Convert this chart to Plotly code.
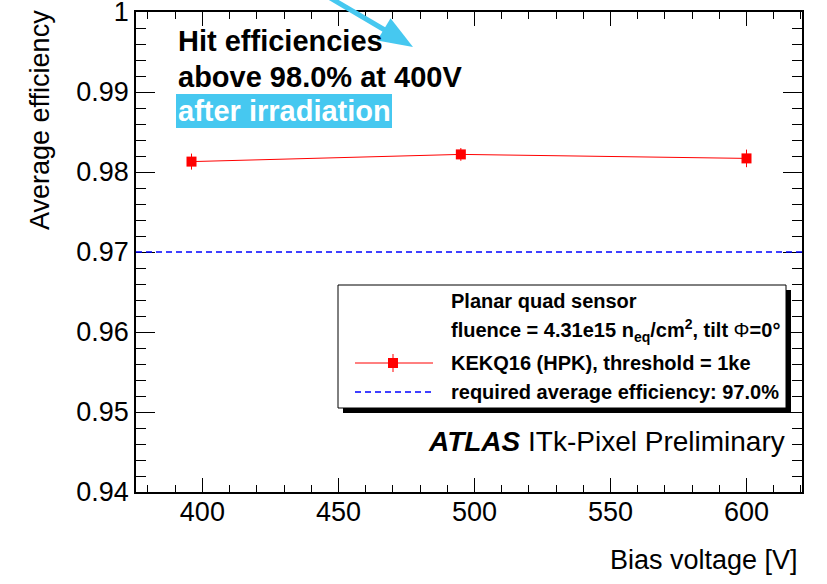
import plotly.graph_objects as go

# ---- data ----
bias_voltage = [396, 495, 600]
avg_efficiency = [0.9813, 0.9822, 0.9817]
eff_error = [0.0010, 0.0008, 0.0011]
required_eff = 0.970

x_ticks = [400, 450, 500, 550, 600]
y_ticks = [0.94, 0.95, 0.96, 0.97, 0.98, 0.99, 1.0]
y_ticktext = ["0.94", "0.95", "0.96", "0.97", "0.98", "0.99", "1"]

# ---- layout geometry (page pixels) ----
W, H = 827, 584
PX0, PX1, PY0, PY1 = 136, 802, 12, 492
L, T = PX0, PY0
R, B = W - PX1, H - PY1
PW, PH = PX1 - PX0, PY1 - PY0
FONT = "Liberation Sans, Arial, Helvetica, sans-serif"
CYAN = "#46c8f0"


def px(x):
    return (x - PX0) / PW


def py(y):
    return (PY1 - y) / PH


fig = go.Figure()

fig.add_trace(go.Scatter(
    x=bias_voltage, y=avg_efficiency,
    mode="lines+markers",
    line=dict(color="#ff0000", width=1),
    marker=dict(symbol="square", size=10, color="#ff0000"),
    error_y=dict(type="data", array=eff_error, visible=True,
                 color="#ff0000", thickness=1, width=0),
    showlegend=False,
))

shapes = []
# required efficiency line
shapes.append(dict(type="line", xref="paper", yref="y", x0=0, x1=1,
                   y0=required_eff, y1=required_eff,
                   line=dict(color="#0000ff", width=1.5, dash="6px,4px")))

# legend box with shadow
shapes.append(dict(type="rect", xref="paper", yref="paper",
                   x0=px(343), x1=px(791), y0=py(290), y1=py(413),
                   fillcolor="black", line=dict(width=0), layer="above"))
shapes.append(dict(type="rect", xref="paper", yref="paper",
                   x0=px(338), x1=px(786), y0=py(285), y1=py(408),
                   fillcolor="white", line=dict(color="black", width=1), layer="above"))
# legend samples
shapes.append(dict(type="line", xref="paper", yref="paper",
                   x0=px(355), x1=px(433), y0=py(363), y1=py(363),
                   line=dict(color="#ff0000", width=1), layer="above"))
shapes.append(dict(type="line", xref="paper", yref="paper",
                   x0=px(393), x1=px(393), y0=py(354), y1=py(372),
                   line=dict(color="#ff0000", width=1), layer="above"))
shapes.append(dict(type="rect", xref="paper", yref="paper",
                   x0=px(388), x1=px(398), y0=py(358), y1=py(368),
                   fillcolor="#ff0000", line=dict(width=0), layer="above"))
shapes.append(dict(type="line", xref="paper", yref="paper",
                   x0=px(355), x1=px(433), y0=py(392), y1=py(392),
                   line=dict(color="#0000ff", width=1.5, dash="6px,4px"), layer="above"))

# cyan arrow (decoration)
tip = (413, 47)
ux, uy = 0.857, 0.516
hl, hw = 34, 13
bx, by = tip[0] - ux * hl, tip[1] - uy * hl
c1 = (bx - uy * hw, by + ux * hw)
c2 = (bx + uy * hw, by - ux * hw)
tail = (333 - ux * 40, 0 - uy * 40)
shapes.append(dict(type="line", xref="paper", yref="paper",
                   x0=px(tail[0]), y0=py(tail[1]), x1=px(bx + ux * 3), y1=py(by + uy * 3),
                   line=dict(color=CYAN, width=5), layer="above"))
path = "M {} {} L {} {} L {} {} Z".format(px(tip[0]), py(tip[1]), px(c1[0]), py(c1[1]),
                                           px(c2[0]), py(c2[1]))
shapes.append(dict(type="path", xref="paper", yref="paper", path=path,
                   fillcolor=CYAN, line=dict(width=0), layer="above"))

# "after irradiation" background
shapes.append(dict(type="rect", xref="paper", yref="paper",
                   x0=px(176), x1=px(392), y0=py(94), y1=py(128),
                   fillcolor=CYAN, line=dict(width=0), layer="above"))

fig.update_layout(shapes=shapes)

ann = []


def text(x, y, s, size, color="black", xanchor="left", yanchor="middle", angle=0):
    ann.append(dict(xref="paper", yref="paper", x=px(x), y=py(y), text=s,
                    showarrow=False, xanchor=xanchor, yanchor=yanchor,
                    textangle=angle, font=dict(family=FONT, size=size, color=color)))


text(176, 41, "<b>Hit efficiencies</b>", 29)
text(176, 77, "<b>above 98.0% at 400V</b>", 29)
text(176, 111, "<b>after irradiation</b>", 29, color="white")

text(449, 301, "<b>Planar quad sensor</b>", 20)
text(449, 330, "<b>fluence = 4.31e15 n<sub>eq</sub>/cm<sup>2</sup>, tilt </b>Φ<b>=0°</b>", 20)
text(449, 363, "<b>KEKQ16 (HPK), threshold = 1ke</b>", 20)
text(449, 392, "<b>required average efficiency: 97.0%</b>", 20)

text(426, 441, "<b><i>ATLAS</i></b> ITk-Pixel Preliminary", 28)

text(800, 560, "Bias voltage [V]", 27, xanchor="right")
text(40, 8, "Average efficiency", 27, xanchor="center", yanchor="top", angle=-90)

fig.update_layout(annotations=ann)

tickfont = dict(family=FONT, size=27, color="black")
fig.update_layout(
    width=W, height=H,
    margin=dict(l=L, r=R, t=T, b=B, pad=0, autoexpand=False),
    paper_bgcolor="white", plot_bgcolor="white",
    showlegend=False,
    xaxis=dict(range=[375.6, 620.4], tickmode="array", tickvals=x_ticks,
               ticks="inside", ticklen=14, tickwidth=1, tickcolor="black",
               showline=True, linecolor="black", linewidth=1.5, mirror="ticks",
               showgrid=False, zeroline=False, tickfont=tickfont,
               automargin=False, ticklabeloverflow="allow", ticklabelstandoff=-5,
               minor=dict(tickmode="linear", tick0=380, dtick=10, ticks="inside",
                          ticklen=7, tickwidth=1, tickcolor="black", showgrid=False)),
    yaxis=dict(range=[0.94, 1.0], tickmode="array", tickvals=y_ticks, ticktext=y_ticktext,
               ticks="inside", ticklen=19, tickwidth=1, tickcolor="black",
               showline=True, linecolor="black", linewidth=1.5, mirror="ticks",
               showgrid=False, zeroline=False, tickfont=tickfont,
               automargin=False, ticklabeloverflow="allow",
               minor=dict(tickmode="linear", tick0=0.94, dtick=0.002, ticks="inside",
                          ticklen=10, tickwidth=1, tickcolor="black", showgrid=False)),
)

fig.write_html("out.html", config={"displayModeBar": False},
               post_script="document.body.style.margin='0px';")
